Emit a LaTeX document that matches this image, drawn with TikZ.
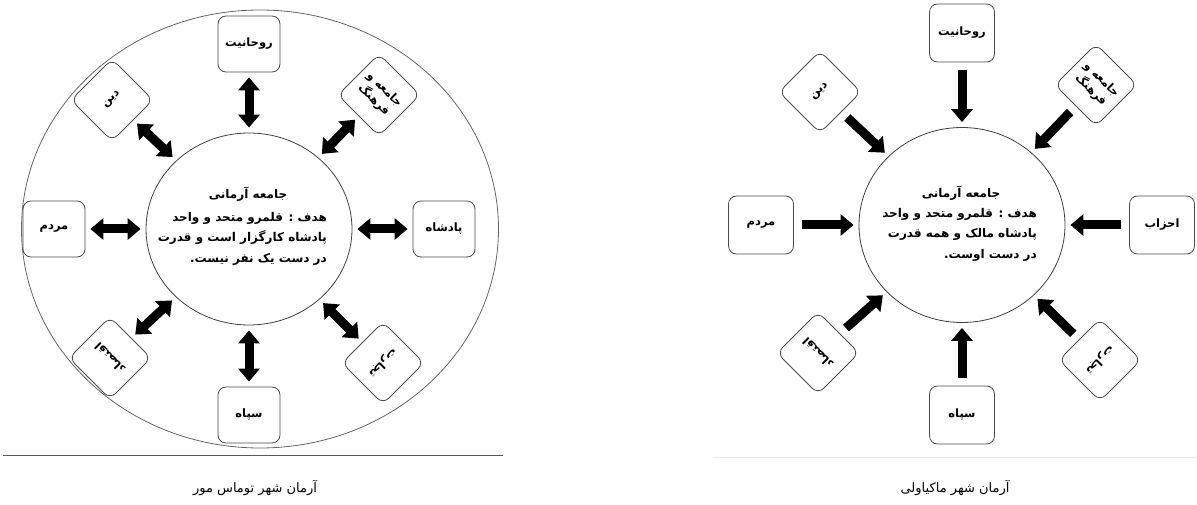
\documentclass[tikz,border=0pt]{standalone}
\usepackage{fontspec}
\usetikzlibrary{shapes.geometric,arrows.meta}
\TeXXeTstate=1
\newfontfamily\fa[Script=Arabic]{DejaVu Sans}
\newcommand{\rl}[1]{\beginR #1\endR}

\tikzset{
  box/.style={draw=black!70, line width=0.8pt, rounded corners=8pt, fill=white,
    minimum width=62pt, minimum height=56pt, inner sep=1pt, align=center,
    font=\fa\bfseries\fontsize{11.5}{15}\selectfont},
  rbox/.style={box, minimum width=65pt, minimum height=58pt},
  dbox/.style={box, minimum width=58pt, minimum height=58pt},
  hub/.style={ellipse, draw=black!75, line width=0.8pt, inner sep=0pt},
  rim/.style={ellipse, draw=black!60, line width=0.8pt, inner sep=0pt,
    minimum width=477pt, minimum height=438pt},
  hubtitle/.style={inner sep=0pt, font=\fa\bfseries\fontsize{12}{20}\selectfont},
  hubbody/.style={inner sep=0pt, align=right, font=\fa\bfseries\fontsize{12}{20.5}\selectfont},
  caption/.style={inner sep=0pt, font=\fa\fontsize{13}{15}\selectfont},
  tipshape/.tip={Triangle[width=21pt,length=13pt]},
  twoway/.style={line width=9pt, tipshape-tipshape, shorten <=5pt, shorten >=5pt},
  inward/.style={line width=9pt, -tipshape, shorten <=8pt, shorten >=5pt},
}

\begin{document}
\begin{tikzpicture}[x=1pt,y=-1pt]
\useasboundingbox (0,0) rectangle (1197,505);

% ---------- Thomas More ----------
\node[rim] (Lrim) at (260,229) {};
\node[hub, minimum width=206pt, minimum height=192pt] (Lhub) at (249,229) {};
\node[hubtitle] (Ltitle) at (248,194) {\rl{جامعه آرمانی}};
\node[hubbody, anchor=north east] (Lbody) at (327,212)
  {\rl{هدف : قلمرو متحد و واحد}\\\rl{پادشاه کارگزار است و قدرت}\\\rl{در دست یک نفر نیست.}};

\node[box] (Ltop) at (249,44) {\rl{روحانیت}};
\node[box] (Lright) at (444,229) {\rl{پادشاه}};
\node[box] (Lleft) at (54,229) {\rl{مردم}};
\node[box] (Lbottom) at (249,415) {\rl{سپاه}};
\node[dbox, rotate=45] (Ltl) at (112,100) {\rl{دین}};
\node[dbox, rotate=-45] (Ltr) at (379,95) {\rl{جامعه و}\\\rl{فرهنگ}};
\node[dbox, rotate=135] (Lbl) at (110,358) {\rl{اقتصاد}};
\node[dbox, rotate=-135] (Lbr) at (383,363) {\rl{تجارت}};

\foreach \b in {Ltop,Lright,Lleft,Lbottom,Ltl,Ltr,Lbl,Lbr}
  \draw[twoway] (\b) -- (Lhub);

\draw[black!65, line width=1pt] (3,455) -- (503,455);
\node[caption] (Lcap) at (255,488) {\rl{آرمان شهر توماس مور}};

% ---------- Machiavelli ----------
\node[hub, minimum width=206pt, minimum height=195pt] (Rhub) at (962,225) {};
\node[hubtitle] (Rtitle) at (961,193) {\rl{جامعه آرمانی}};
\node[hubbody, anchor=north east] (Rbody) at (1037,208)
  {\rl{هدف : قلمرو متحد و واحد}\\\rl{پادشاه مالک و همه قدرت}\\\rl{در دست اوست.}};

\node[rbox] (Rtop) at (962,33) {\rl{روحانیت}};
\node[rbox] (Rright) at (1162,225) {\rl{احزاب}};
\node[rbox] (Rleft) at (761,225) {\rl{مردم}};
\node[rbox] (Rbottom) at (962,415) {\rl{سپاه}};
\node[dbox, rotate=45] (Rtl) at (820,92) {\rl{دین}};
\node[dbox, rotate=-45] (Rtr) at (1096,85) {\rl{جامعه و}\\\rl{فرهنگ}};
\node[dbox, rotate=135] (Rbl) at (818,353) {\rl{اقتصاد}};
\node[dbox, rotate=-135] (Rbr) at (1100,360) {\rl{تجارت}};

\foreach \b in {Rtop,Rright,Rleft,Rbottom,Rtl,Rtr,Rbl,Rbr}
  \draw[inward] (\b) -- (Rhub);

\draw[black!8, line width=1pt] (713,457) -- (1197,457);
\node[caption] (Rcap) at (955,488) {\rl{آرمان شهر ماکیاولی}};
\end{tikzpicture}
\end{document}
